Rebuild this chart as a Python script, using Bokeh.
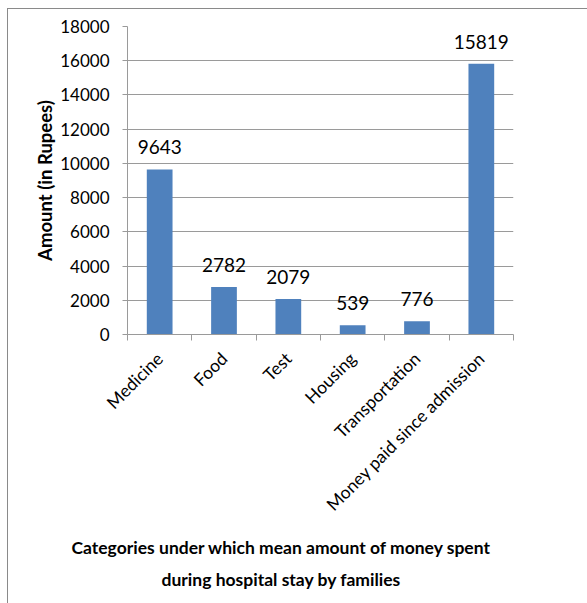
import math
from bokeh.plotting import figure
from bokeh.models import ColumnDataSource, Range1d, FixedTicker, Title
from bokeh.core.properties import value
from bokeh.embed import file_html
from bokeh.resources import INLINE

categories = ["Medicine", "Food", "Test", "Housing", "Transportation", "Money paid since admission"]
amounts = [9643, 2782, 2079, 539, 776, 15819]
y_ticks = [0, 2000, 4000, 6000, 8000, 10000, 12000, 14000, 16000, 18000]
x_title_lines = ["Categories under which mean amount of money spent", "during hospital stay by families"]

FONT = "Lato"
GRID = "#9a9a9a"
BAR = "#4F81BD"

x_pos = [i + 0.5 for i in range(len(categories))]
src = ColumnDataSource(dict(x=x_pos, top=amounts, lbl=[str(a) for a in amounts]))

p = figure(width=580, height=595, output_backend="svg", toolbar_location=None,
           x_range=Range1d(0, len(categories)), y_range=Range1d(y_ticks[0], y_ticks[-1]),
           min_border_left=119, min_border_right=75, min_border_top=17, min_border_bottom=270)
p.margin = (8, 0, 0, 7)
p.styles = {"border-top": "1px solid #8a8a8a", "border-left": "1px solid #8a8a8a"}
p.outline_line_color = None
p.background_fill_color = "white"
p.border_fill_color = "white"

p.vbar(x="x", top="top", width=0.4, bottom=0, source=src, fill_color=BAR, line_color=None)
p.text(x="x", y="top", text="lbl", source=src, text_align="center", text_baseline="bottom",
       y_offset=-15, text_font=value(FONT), text_font_size="19px", text_color="#000000")

# y axis
p.yaxis.ticker = FixedTicker(ticks=y_ticks)
p.yaxis.axis_label = "Amount (in Rupees)"
p.yaxis.axis_label_text_font = FONT
p.yaxis.axis_label_text_font_style = "bold"
p.yaxis.axis_label_text_font_size = "18.5px"
p.yaxis.axis_label_text_color = "#000000"
p.yaxis.axis_label_standoff = 1
p.yaxis.major_label_text_font = FONT
p.yaxis.major_label_text_font_size = "17px"
p.yaxis.major_label_text_color = "#000000"
p.yaxis.axis_line_color = GRID
p.yaxis.major_tick_line_color = GRID
p.yaxis.major_tick_out = 5
p.yaxis.major_tick_in = 0
p.yaxis.minor_tick_line_color = None
p.yaxis.major_label_standoff = 13

# x axis
p.xaxis.ticker = FixedTicker(ticks=x_pos, minor_ticks=list(range(len(categories) + 1)))
p.xaxis.major_label_overrides = {x: c for x, c in zip(x_pos, categories)}
p.xaxis.major_label_orientation = math.pi / 4
p.xaxis.major_label_text_font = FONT
p.xaxis.major_label_text_font_size = "17.5px"
p.xaxis.major_label_text_color = "#000000"
p.xaxis.major_label_standoff = 15
p.xaxis.axis_line_color = GRID
p.xaxis.major_tick_line_color = None
p.xaxis.minor_tick_line_color = GRID
p.xaxis.minor_tick_out = 6
p.xaxis.minor_tick_in = 0

p.xgrid.grid_line_color = None
p.ygrid.grid_line_color = GRID
p.ygrid.ticker = FixedTicker(ticks=y_ticks)

for txt, off, so, lh in zip(x_title_lines, [-56, 34], [18, 0], [1.0, 0.75]):
    p.add_layout(Title(text=txt, align="left", offset=off, text_font=FONT,
                       text_font_style="bold", text_font_size="17.5px", text_color="#000000",
                       standoff=so, text_line_height=lh), "below")

open("out.html", "w").write(file_html(p, INLINE))
